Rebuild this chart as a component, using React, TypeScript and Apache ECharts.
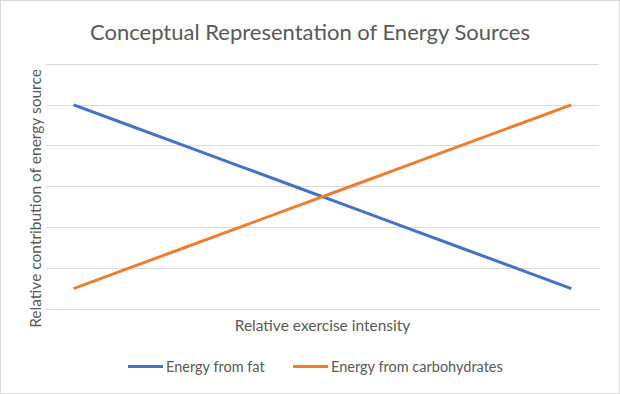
import React, { useEffect, useRef } from "react";
import * as echarts from "echarts";

const categories = ["1", "2", "3", "4", "5", "6", "7", "8", "9", "10"];
const fatValues = [5, 4.5, 4, 3.5, 3, 2.5, 2, 1.5, 1, 0.5];
const carbValues = [0.5, 1, 1.5, 2, 2.5, 3, 3.5, 4, 4.5, 5];

const FONT = "Lato, 'Noto Sans', sans-serif";
const TEXT = "#595959";

export default function App() {
  const ref = useRef<HTMLDivElement>(null);
  useEffect(() => {
    if (!ref.current) return;
    const chart = echarts.init(ref.current, undefined, { renderer: "svg" });
    chart.setOption({
      animation: false,
      backgroundColor: "#ffffff",
      title: {
        text: "Conceptual Representation of Energy Sources",
        left: "center",
        top: 14,
        textStyle: { fontFamily: FONT, fontSize: 22, fontWeight: "normal", color: TEXT },
      },
      legend: {
        bottom: 14,
        left: 122,
        itemWidth: 35,
        itemHeight: 3,
        itemGap: 28,
        icon: "rect",
        textStyle: { fontFamily: FONT, fontSize: 14.5, color: TEXT, padding: [0, 0, 0, -2] },
        data: ["Energy from fat", "Energy from carbohydrates"],
      },
      grid: { left: 45, right: 20, top: 63, bottom: 84 },
      xAxis: {
        type: "category",
        data: categories,
        boundaryGap: true,
        name: "Relative exercise intensity",
        nameLocation: "middle",
        nameGap: 8,
        nameTextStyle: { fontFamily: FONT, fontSize: 15.5, color: TEXT, verticalAlign: "top" },
        axisLine: { show: true, lineStyle: { color: "#d9d9d9" } },
        axisTick: { show: false },
        axisLabel: { show: false },
      },
      yAxis: {
        type: "value",
        min: 0,
        max: 6,
        interval: 1,
        name: "Relative contribution of energy source",
        nameLocation: "middle",
        nameGap: 3,
        nameTextStyle: { fontFamily: FONT, fontSize: 15.5, color: TEXT, padding: [0, 24, 0, 0] },
        axisLine: { show: false },
        axisTick: { show: false },
        axisLabel: { show: false },
        splitLine: { lineStyle: { color: "#d9d9d9", width: 1 } },
      },
      series: [
        {
          name: "Energy from fat",
          type: "line",
          data: fatValues,
          symbol: "none",
          lineStyle: { color: "#4472C4", width: 3 },
          itemStyle: { color: "#4472C4" },
        },
        {
          name: "Energy from carbohydrates",
          type: "line",
          data: carbValues,
          symbol: "none",
          lineStyle: { color: "#ED7D31", width: 3 },
          itemStyle: { color: "#ED7D31" },
        },
      ],
    });
    return () => chart.dispose();
  }, []);
  return (
    <div
      ref={ref}
      style={{
        position: "absolute",
        left: 0,
        top: 0,
        width: 620,
        height: 394,
        border: "1px solid #d9d9d9",
        boxSizing: "border-box",
      }}
    />
  );
}
